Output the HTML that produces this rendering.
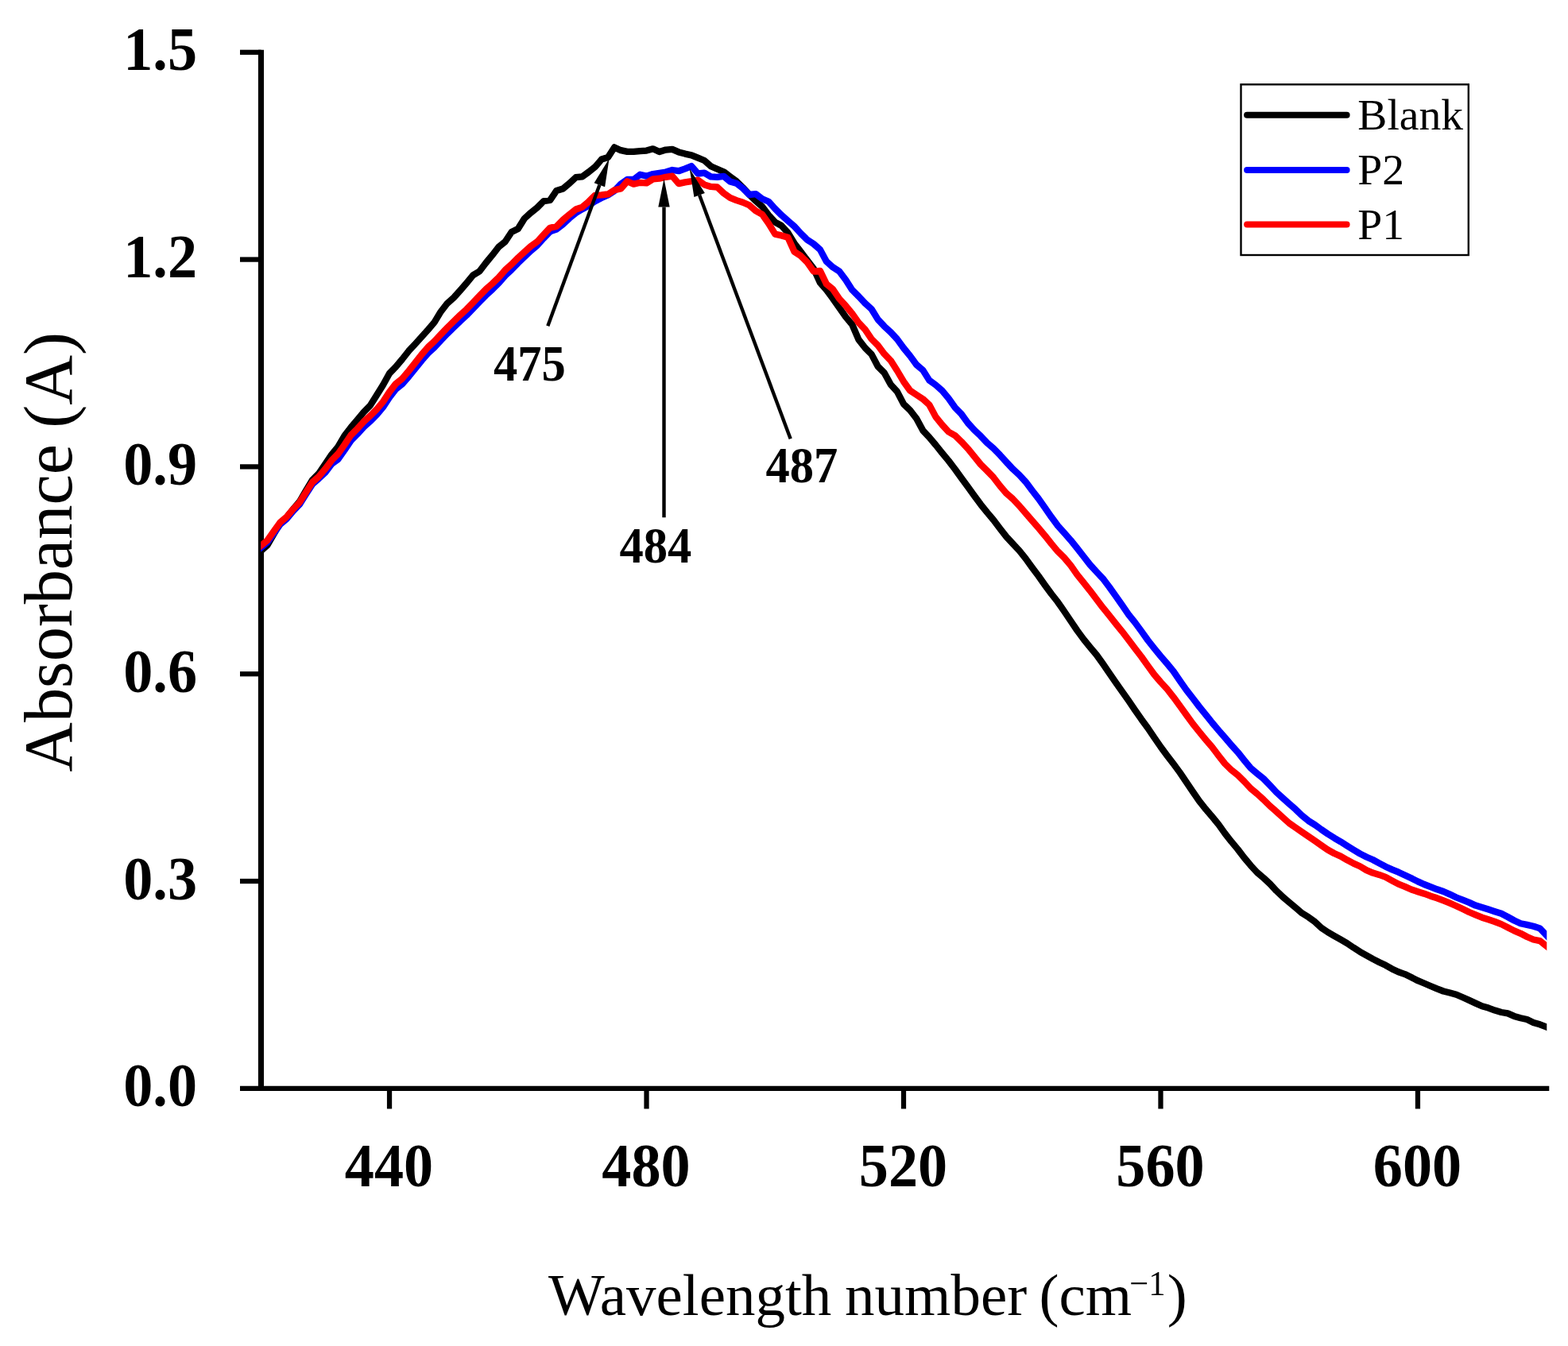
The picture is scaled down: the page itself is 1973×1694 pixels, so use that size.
<!DOCTYPE html>
<html lang="en"><head><meta charset="utf-8"><title>Absorbance spectra</title>
<style>html,body{margin:0;padding:0;background:#fff}svg{display:block}text{font-family:"Liberation Serif",serif;fill:#000}.b{font-weight:bold}</style></head><body>
<svg width="1973" height="1694" viewBox="0 0 1973 1694">
<rect width="1973" height="1694" fill="#fff"/>
<defs><clipPath id="c"><rect x="328.2" y="0" width="1618.1" height="1694"/></clipPath></defs>
<g stroke="#000" stroke-width="6.25" fill="none">
<path stroke-width="7.1" d="M328.45,62.67 V1372.92"/>
<path d="M302,1369.8 H1949.3"/>
<path d="M302,1109.00 H328.6"/>
<path d="M302,848.20 H328.6"/>
<path d="M302,587.40 H328.6"/>
<path d="M302,326.60 H328.6"/>
<path d="M302,65.80 H328.6"/>
<path d="M490.04,1369.8 V1395.5"/>
<path d="M813.52,1369.8 V1395.5"/>
<path d="M1137.00,1369.8 V1395.5"/>
<path d="M1460.48,1369.8 V1395.5"/>
<path d="M1783.96,1369.8 V1395.5"/>
</g>
<g fill="none" stroke-width="8.33" stroke-linejoin="round" stroke-linecap="butt" clip-path="url(#c)">
<path stroke="#000" d="M320.2,700.8 L328.3,693.5 L336.4,686.2 L344.5,672.2 L352.6,658.5 L360.6,651.0 L368.7,641.0 L376.8,631.5 L384.9,617.7 L393.0,604.2 L401.1,596.0 L409.2,584.2 L417.3,572.1 L425.3,562.4 L433.4,548.6 L441.5,538.0 L449.6,528.3 L457.7,518.6 L465.8,510.4 L473.9,497.5 L482.0,484.5 L490.0,470.0 L498.1,461.7 L506.2,452.0 L514.3,441.7 L522.4,433.0 L530.5,424.0 L538.6,415.0 L546.6,405.6 L554.7,392.2 L562.8,381.8 L570.9,374.6 L579.0,365.6 L587.1,356.2 L595.2,346.4 L603.3,341.5 L611.3,331.0 L619.4,321.2 L627.5,310.7 L635.6,304.2 L643.7,292.0 L651.8,288.0 L659.9,275.0 L668.0,267.7 L676.0,261.2 L684.1,253.1 L692.2,251.8 L700.3,239.9 L708.4,237.4 L716.5,230.8 L724.6,223.2 L732.6,222.3 L740.7,216.5 L748.8,210.1 L756.9,200.6 L765.0,198.1 L773.1,185.4 L781.2,189.2 L789.3,190.9 L797.3,190.9 L805.4,190.1 L813.5,189.6 L821.6,187.3 L829.7,191.1 L837.8,188.6 L845.9,187.9 L854.0,191.4 L862.0,193.6 L870.1,195.3 L878.2,198.7 L886.3,202.0 L894.4,209.2 L902.5,212.7 L910.6,216.2 L918.7,222.3 L926.7,228.1 L934.8,236.1 L942.9,245.0 L951.0,252.9 L959.1,260.0 L967.2,270.7 L975.3,279.6 L983.3,284.0 L991.4,292.9 L999.5,306.2 L1007.6,316.8 L1015.7,327.5 L1023.8,338.1 L1031.9,355.8 L1040.0,365.1 L1048.0,375.8 L1056.1,387.3 L1064.2,398.9 L1072.3,408.5 L1080.4,427.4 L1088.5,437.8 L1096.6,445.9 L1104.7,461.3 L1112.7,469.3 L1120.8,484.0 L1128.9,492.9 L1137.0,508.4 L1145.1,516.2 L1153.2,526.8 L1161.3,541.8 L1169.3,550.4 L1177.4,560.0 L1185.5,570.1 L1193.6,579.9 L1201.7,590.5 L1209.8,601.8 L1217.9,612.8 L1226.0,624.0 L1234.0,634.8 L1242.1,644.9 L1250.2,654.5 L1258.3,665.2 L1266.4,675.6 L1274.5,684.3 L1282.6,693.0 L1290.7,703.1 L1298.7,714.2 L1306.8,725.0 L1314.9,736.5 L1323.0,747.5 L1331.1,757.8 L1339.2,769.5 L1347.3,781.5 L1355.3,793.4 L1363.4,804.4 L1371.5,814.4 L1379.6,824.0 L1387.7,835.3 L1395.8,847.1 L1403.9,858.9 L1412.0,870.4 L1420.0,881.7 L1428.1,893.6 L1436.2,905.2 L1444.3,916.2 L1452.4,928.3 L1460.5,940.0 L1468.6,950.9 L1476.7,961.5 L1484.7,972.4 L1492.8,984.3 L1500.9,996.4 L1509.0,1008.1 L1517.1,1018.3 L1525.2,1027.8 L1533.3,1037.7 L1541.3,1048.9 L1549.4,1059.2 L1557.5,1068.9 L1565.6,1079.5 L1573.7,1089.2 L1581.8,1098.0 L1589.9,1104.9 L1598.0,1112.4 L1606.0,1121.1 L1614.1,1128.8 L1622.2,1135.6 L1630.3,1142.4 L1638.4,1149.3 L1646.5,1154.3 L1654.6,1160.2 L1662.7,1167.8 L1670.7,1173.1 L1678.8,1177.8 L1686.9,1182.4 L1695.0,1187.1 L1703.1,1192.6 L1711.2,1197.8 L1719.3,1202.4 L1727.4,1206.9 L1735.4,1211.0 L1743.5,1214.8 L1751.6,1219.4 L1759.7,1223.3 L1767.8,1226.1 L1775.9,1230.0 L1784.0,1234.2 L1792.0,1237.5 L1800.1,1241.0 L1808.2,1244.4 L1816.3,1247.5 L1824.4,1249.5 L1832.5,1251.7 L1840.6,1255.3 L1848.7,1258.9 L1856.7,1262.6 L1864.8,1266.3 L1872.9,1268.6 L1881.0,1271.6 L1889.1,1274.0 L1897.2,1275.4 L1905.3,1278.9 L1913.4,1281.2 L1921.4,1283.0 L1929.5,1286.9 L1937.6,1289.3 L1945.7,1292.5 L1953.8,1295.7"/>
<path stroke="#0000ff" d="M320.2,695.9 L328.3,689.2 L336.4,682.5 L344.5,671.1 L352.6,659.8 L360.6,653.0 L368.7,643.4 L376.8,634.9 L384.9,622.1 L393.0,609.4 L401.1,602.3 L409.2,594.7 L417.3,583.9 L425.3,578.1 L433.4,566.7 L441.5,554.6 L449.6,546.4 L457.7,537.5 L465.8,530.2 L473.9,522.1 L482.0,512.4 L490.0,500.2 L498.1,489.7 L506.2,483.2 L514.3,474.0 L522.4,464.0 L530.5,453.8 L538.6,444.5 L546.6,437.1 L554.7,428.5 L562.8,420.0 L570.9,412.0 L579.0,404.2 L587.1,396.8 L595.2,388.4 L603.3,379.9 L611.3,371.8 L619.4,364.4 L627.5,356.4 L635.6,347.0 L643.7,339.4 L651.8,331.0 L659.9,323.3 L668.0,315.6 L676.0,308.8 L684.1,299.8 L692.2,291.3 L700.3,288.6 L708.4,282.2 L716.5,274.6 L724.6,268.0 L732.6,263.2 L740.7,258.9 L748.8,253.2 L756.9,249.0 L765.0,245.4 L773.1,240.2 L781.2,231.6 L789.3,226.0 L797.3,226.0 L805.4,219.7 L813.5,221.6 L821.6,219.0 L829.7,217.8 L837.8,216.5 L845.9,214.0 L854.0,215.2 L862.0,212.4 L870.1,209.1 L878.2,218.5 L886.3,217.6 L894.4,222.4 L902.5,222.8 L910.6,221.8 L918.7,228.5 L926.7,230.8 L934.8,237.0 L942.9,245.0 L951.0,244.1 L959.1,250.3 L967.2,253.8 L975.3,262.7 L983.3,270.7 L991.4,277.8 L999.5,284.9 L1007.6,293.7 L1015.7,301.7 L1023.8,307.0 L1031.9,314.1 L1040.0,329.2 L1048.0,336.3 L1056.1,341.6 L1064.2,352.3 L1072.3,364.9 L1080.4,373.0 L1088.5,381.7 L1096.6,389.0 L1104.7,402.1 L1112.7,410.7 L1120.8,418.1 L1128.9,426.9 L1137.0,438.0 L1145.1,447.9 L1153.2,459.0 L1161.3,465.9 L1169.3,478.6 L1177.4,484.5 L1185.5,491.7 L1193.6,501.4 L1201.7,512.8 L1209.8,521.2 L1217.9,532.4 L1226.0,541.3 L1234.0,548.8 L1242.1,557.4 L1250.2,564.4 L1258.3,572.7 L1266.4,581.6 L1274.5,590.3 L1282.6,597.8 L1290.7,606.6 L1298.7,617.3 L1306.8,627.6 L1314.9,639.1 L1323.0,650.8 L1331.1,661.8 L1339.2,670.8 L1347.3,679.9 L1355.3,689.9 L1363.4,700.2 L1371.5,710.6 L1379.6,719.5 L1387.7,728.1 L1395.8,738.8 L1403.9,750.1 L1412.0,761.7 L1420.0,773.3 L1428.1,783.4 L1436.2,794.4 L1444.3,805.7 L1452.4,816.0 L1460.5,825.9 L1468.6,835.3 L1476.7,845.1 L1484.7,856.9 L1492.8,868.4 L1500.9,878.8 L1509.0,889.4 L1517.1,899.4 L1525.2,909.5 L1533.3,919.1 L1541.3,928.3 L1549.4,937.7 L1557.5,946.7 L1565.6,956.8 L1573.7,966.6 L1581.8,973.5 L1589.9,980.0 L1598.0,988.4 L1606.0,997.0 L1614.1,1004.4 L1622.2,1011.6 L1630.3,1018.7 L1638.4,1026.5 L1646.5,1033.1 L1654.6,1038.1 L1662.7,1044.0 L1670.7,1049.5 L1678.8,1054.6 L1686.9,1059.3 L1695.0,1064.5 L1703.1,1069.5 L1711.2,1074.4 L1719.3,1078.5 L1727.4,1082.0 L1735.4,1086.3 L1743.5,1090.7 L1751.6,1094.4 L1759.7,1097.7 L1767.8,1101.5 L1775.9,1105.3 L1784.0,1109.4 L1792.0,1113.0 L1800.1,1116.1 L1808.2,1119.3 L1816.3,1122.0 L1824.4,1125.6 L1832.5,1129.5 L1840.6,1132.7 L1848.7,1135.9 L1856.7,1139.6 L1864.8,1142.1 L1872.9,1144.6 L1881.0,1147.2 L1889.1,1149.8 L1897.2,1154.0 L1905.3,1158.5 L1913.4,1162.2 L1921.4,1163.9 L1929.5,1165.7 L1937.6,1168.4 L1945.7,1176.8 L1953.8,1185.2"/>
<path stroke="#ff0000" d="M320.2,693.5 L328.3,686.8 L336.4,680.1 L344.5,668.7 L352.6,657.4 L360.6,650.6 L368.7,641.0 L376.8,632.5 L384.9,619.7 L393.0,607.0 L401.1,599.9 L409.2,590.2 L417.3,579.4 L425.3,571.3 L433.4,559.9 L441.5,547.8 L449.6,539.6 L457.7,530.7 L465.8,523.4 L473.9,515.3 L482.0,505.6 L490.0,493.4 L498.1,482.9 L506.2,476.4 L514.3,466.9 L522.4,456.6 L530.5,446.3 L538.6,436.9 L546.6,429.5 L554.7,420.9 L562.8,412.4 L570.9,404.4 L579.0,396.6 L587.1,389.2 L595.2,380.8 L603.3,372.3 L611.3,364.2 L619.4,357.0 L627.5,349.2 L635.6,339.9 L643.7,332.6 L651.8,324.5 L659.9,317.2 L668.0,309.9 L676.0,304.2 L684.1,295.3 L692.2,286.7 L700.3,284.9 L708.4,276.7 L716.5,269.9 L724.6,263.5 L732.6,260.7 L740.7,253.8 L748.8,245.8 L756.9,245.4 L765.0,244.4 L773.1,239.3 L781.2,237.4 L789.3,228.2 L797.3,231.7 L805.4,229.8 L813.5,230.4 L821.6,225.4 L829.7,224.7 L837.8,222.8 L845.9,221.6 L854.0,231.1 L862.0,229.4 L870.1,228.2 L878.2,226.6 L886.3,232.4 L894.4,234.9 L902.5,235.5 L910.6,243.1 L918.7,248.9 L926.7,252.1 L934.8,254.7 L942.9,258.3 L951.0,265.4 L959.1,269.8 L967.2,281.3 L975.3,294.6 L983.3,296.4 L991.4,298.7 L999.5,316.8 L1007.6,322.1 L1015.7,330.1 L1023.8,341.6 L1031.9,340.8 L1040.0,357.6 L1048.0,364.0 L1056.1,376.0 L1064.2,384.8 L1072.3,394.7 L1080.4,406.1 L1088.5,414.7 L1096.6,426.6 L1104.7,434.8 L1112.7,445.4 L1120.8,453.8 L1128.9,466.5 L1137.0,480.2 L1145.1,491.5 L1153.2,496.9 L1161.3,502.2 L1169.3,509.5 L1177.4,524.6 L1185.5,534.6 L1193.6,543.5 L1201.7,548.1 L1209.8,555.9 L1217.9,564.7 L1226.0,574.7 L1234.0,584.5 L1242.1,592.5 L1250.2,600.9 L1258.3,611.6 L1266.4,620.9 L1274.5,628.0 L1282.6,636.6 L1290.7,646.0 L1298.7,655.3 L1306.8,664.6 L1314.9,674.2 L1323.0,684.4 L1331.1,694.1 L1339.2,702.0 L1347.3,711.7 L1355.3,723.1 L1363.4,733.1 L1371.5,743.3 L1379.6,754.1 L1387.7,764.7 L1395.8,774.6 L1403.9,784.9 L1412.0,794.8 L1420.0,805.2 L1428.1,815.9 L1436.2,826.5 L1444.3,837.9 L1452.4,849.0 L1460.5,858.5 L1468.6,867.3 L1476.7,877.6 L1484.7,888.4 L1492.8,899.7 L1500.9,910.9 L1509.0,921.0 L1517.1,930.8 L1525.2,940.2 L1533.3,950.9 L1541.3,961.1 L1549.4,969.1 L1557.5,975.5 L1565.6,983.5 L1573.7,992.3 L1581.8,999.0 L1589.9,1006.4 L1598.0,1014.4 L1606.0,1021.3 L1614.1,1028.7 L1622.2,1036.0 L1630.3,1041.7 L1638.4,1047.2 L1646.5,1052.8 L1654.6,1058.3 L1662.7,1064.0 L1670.7,1069.5 L1678.8,1074.0 L1686.9,1077.6 L1695.0,1082.3 L1703.1,1086.6 L1711.2,1090.2 L1719.3,1095.1 L1727.4,1098.6 L1735.4,1100.9 L1743.5,1103.8 L1751.6,1108.3 L1759.7,1112.7 L1767.8,1115.9 L1775.9,1119.5 L1784.0,1122.2 L1792.0,1124.7 L1800.1,1127.7 L1808.2,1130.3 L1816.3,1133.4 L1824.4,1136.7 L1832.5,1140.2 L1840.6,1144.0 L1848.7,1148.0 L1856.7,1151.4 L1864.8,1154.7 L1872.9,1157.3 L1881.0,1160.0 L1889.1,1163.1 L1897.2,1167.2 L1905.3,1171.4 L1913.4,1174.8 L1921.4,1179.0 L1929.5,1182.5 L1937.6,1184.1 L1945.7,1190.5 L1953.8,1196.9"/>
</g>
<text transform="translate(248.00,1392.40) scale(0.99,1.04)" font-size="75" text-anchor="end" class="b">0.0</text>
<text transform="translate(248.00,1131.60) scale(0.99,1.04)" font-size="75" text-anchor="end" class="b">0.3</text>
<text transform="translate(248.00,870.80) scale(0.99,1.04)" font-size="75" text-anchor="end" class="b">0.6</text>
<text transform="translate(248.00,610.00) scale(0.99,1.04)" font-size="75" text-anchor="end" class="b">0.9</text>
<text transform="translate(248.00,349.20) scale(0.99,1.04)" font-size="75" text-anchor="end" class="b">1.2</text>
<text transform="translate(248.00,88.40) scale(0.99,1.04)" font-size="75" text-anchor="end" class="b">1.5</text>
<text transform="translate(489.54,1493.00) scale(0.99,1.04)" font-size="75" text-anchor="middle" class="b">440</text>
<text transform="translate(813.02,1493.00) scale(0.99,1.04)" font-size="75" text-anchor="middle" class="b">480</text>
<text transform="translate(1136.50,1493.00) scale(0.99,1.04)" font-size="75" text-anchor="middle" class="b">520</text>
<text transform="translate(1459.98,1493.00) scale(0.99,1.04)" font-size="75" text-anchor="middle" class="b">560</text>
<text transform="translate(1783.46,1493.00) scale(0.99,1.04)" font-size="75" text-anchor="middle" class="b">600</text>
<text transform="translate(690.00,1654.50)" font-size="75">Wavelength</text>
<text transform="translate(1063.10,1654.50)" font-size="75">number</text>
<text transform="translate(1307.60,1654.50)" font-size="75">(cm</text>
<text transform="translate(1421.20,1629.50) scale(0.97,1.0)" font-size="44">−1</text>
<text transform="translate(1468.70,1654.50)" font-size="75">)</text>
<text transform="translate(90.00,971.50) rotate(-90)" font-size="86.4">Absorbance</text>
<text transform="translate(90.00,538.80) rotate(-90)" font-size="87">(A)</text>
<rect x="1561.5" y="106.3" width="286.3" height="214.7" fill="#fff" stroke="#000" stroke-width="2.4"/>
<g stroke-width="8.0" stroke-linecap="round" fill="none">
<path stroke="#000" d="M1569.1,144.8 H1694.6"/>
<path stroke="#0000ff" d="M1569.1,214.0 H1694.6"/>
<path stroke="#ff0000" d="M1569.1,282.6 H1694.6"/>
</g>
<text transform="translate(1708.30,163.20)" font-size="55.6">Blank</text>
<text transform="translate(1708.30,232.10)" font-size="55.6">P2</text>
<text transform="translate(1708.30,301.00)" font-size="55.6">P1</text>
<path d="M689.3,410.2 L754.4,232.8" stroke="#000" stroke-width="4.4" fill="none"/><path d="M766.6,199.5 L761.1,235.3 L747.6,230.3 Z" fill="#000"/>
<path d="M835.5,651.3 L835.5,260.6" stroke="#000" stroke-width="4.4" fill="none"/><path d="M835.5,225.1 L842.7,260.6 L828.3,260.6 Z" fill="#000"/>
<path d="M994.7,552.3 L880.1,245.5" stroke="#000" stroke-width="4.4" fill="none"/><path d="M867.7,212.2 L886.9,242.9 L873.4,248.0 Z" fill="#000"/>
<text transform="translate(621.00,478.50) scale(1.01,1.04)" font-size="60" class="b">475</text>
<text transform="translate(779.50,708.30) scale(1.01,1.04)" font-size="60" class="b">484</text>
<text transform="translate(963.50,606.80) scale(1.01,1.04)" font-size="60" class="b">487</text>
</svg></body></html>
